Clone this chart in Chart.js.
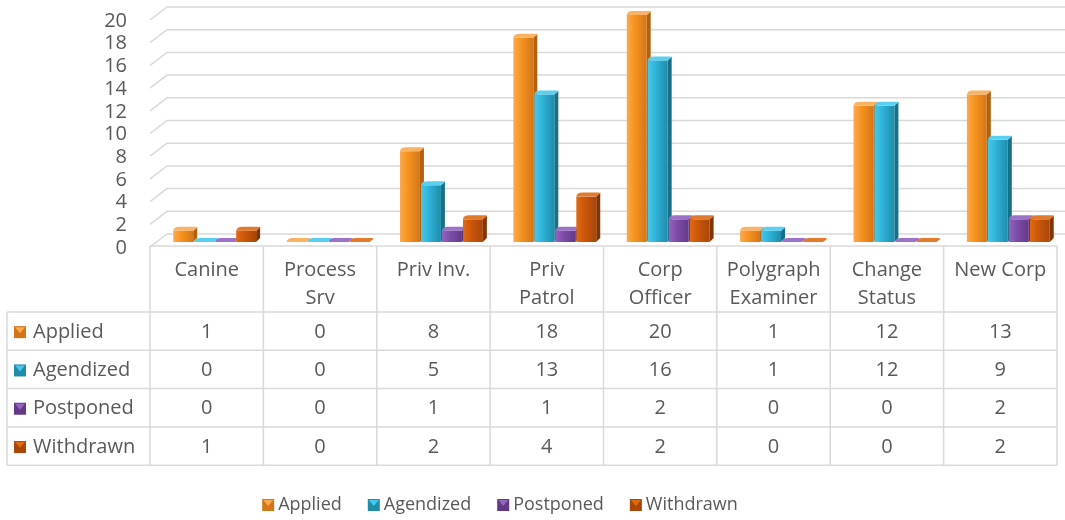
<!DOCTYPE html>
<html lang="en">
<head>
  <meta charset="UTF-8">
  <title>Applications by License Type</title>
  <style>
    body {
      margin: 0;
      padding: 0;
      background-color: #fff;
    }

    .chart-container {
      position: relative;
      width: 1065px;
      height: 520px;
    }
  </style>
  <script src="https://cdn.jsdelivr.net/npm/chart.js"></script>
</head>
<body>

  <div class="chart-container">
    <canvas id="licenseChart"></canvas>
  </div>

  <script>
    const categories = [['Canine'], ['Process', 'Srv'], ['Priv Inv.'], ['Priv', 'Patrol'], ['Corp', 'Officer'],
                        ['Polygraph', 'Examiner'], ['Change', 'Status'], ['New Corp']];
    const seriesNames = ['Applied', 'Agendized', 'Postponed', 'Withdrawn'];
    const applied   = [1, 0, 8, 18, 20, 1, 12, 13];
    const agendized = [0, 0, 5, 13, 16, 1, 12, 9];
    const postponed = [0, 0, 1, 1, 2, 0, 0, 2];
    const withdrawn = [1, 0, 2, 4, 2, 0, 0, 2];
    const yTicks = [0, 2, 4, 6, 8, 10, 12, 14, 16, 18, 20];

    // light / base / dark / side shades for each series
    const shades = [
      { light: '#FCA94E', base: '#F7931E', dark: '#D2761A', side: '#B3610F', top: '#FAB264' },
      { light: '#45C8EA', base: '#2FB3D8', dark: '#1F8CAA', side: '#176F88', top: '#5BD0EE' },
      { light: '#9465C0', base: '#7D4DA8', dark: '#633987', side: '#4D2A6C', top: '#9C72C6' },
      { light: '#E06A14', base: '#CC570B', dark: '#A94608', side: '#833405', top: '#E27A2E' }
    ];

    const FONT = "'Open Sans', Lato, sans-serif";
    const FONT_SIZE = 20;
    const LEGEND_SIZE = 18;
    const TEXT = '#595959';
    const GRID = '#D9D9D9';
    const SHIFT = 8;      // depth shift of the bars against the table
    const DEPTH = 4;      // size of side / top faces

    function drawBar(ctx, x, top, base, w, c) {
      const x0 = x - w / 2;
      const x1 = x + w / 2;
      const h = Math.max(0, base - top);
      // side face
      ctx.fillStyle = c.side;
      ctx.beginPath();
      ctx.moveTo(x1, top);
      ctx.lineTo(x1 + DEPTH, top - DEPTH);
      ctx.lineTo(x1 + DEPTH, base - DEPTH);
      ctx.lineTo(x1, base);
      ctx.closePath();
      ctx.fill();
      // front face
      if (h > 0) {
        const g = ctx.createLinearGradient(x0, 0, x1, 0);
        g.addColorStop(0, c.light);
        g.addColorStop(0.4, c.base);
        g.addColorStop(1, c.dark);
        ctx.fillStyle = g;
        ctx.fillRect(x0, top, w, h);
      }
      // top face, slightly rounded
      ctx.fillStyle = c.top;
      ctx.beginPath();
      ctx.moveTo(x0, top);
      ctx.quadraticCurveTo(x0 + 0.5, top - DEPTH, x0 + DEPTH + 2, top - DEPTH);
      ctx.lineTo(x1 + DEPTH - 2, top - DEPTH);
      ctx.quadraticCurveTo(x1 + DEPTH, top - DEPTH, x1 + DEPTH, top - DEPTH + 1);
      ctx.lineTo(x1, top);
      ctx.closePath();
      ctx.fill();
    }

    function drawMarker(ctx, x, y, size, c) {
      ctx.fillStyle = c.dark;
      ctx.fillRect(x, y, size, size);
      ctx.fillStyle = c.light;
      ctx.beginPath();
      ctx.moveTo(x + 1, y + 1);
      ctx.lineTo(x + size - 1, y + 1);
      ctx.lineTo(x + size / 2, y + size / 2 + 1);
      ctx.closePath();
      ctx.fill();
    }

    const chart3d = {
      id: 'chart3d',
      beforeDatasetsDraw(chart) {
        // back wall gridlines with the slanted floor edge on the left, plus tick labels
        const ctx = chart.ctx;
        const y = chart.scales.y;
        const area = chart.chartArea;
        ctx.save();
        ctx.strokeStyle = GRID;
        ctx.lineWidth = 1.5;
        ctx.fillStyle = TEXT;
        ctx.font = FONT_SIZE + 'px ' + FONT;
        ctx.textAlign = 'right';
        ctx.textBaseline = 'middle';
        yTicks.forEach(v => {
          const py = y.getPixelForValue(v);
          ctx.beginPath();
          ctx.moveTo(area.left - SHIFT, py + 5);
          ctx.lineTo(area.left + SHIFT + 1, py - 8);
          ctx.lineTo(area.right, py - 8);
          ctx.stroke();
          ctx.fillText(String(v), 127, py + 6);
        });
        ctx.restore();
      },
      afterDatasetsDraw(chart) {
        const ctx = chart.ctx;
        ctx.save();
        const n = categories.length;
        for (let i = 0; i < n; i++) {
          chart.data.datasets.forEach((ds, d) => {
            const el = chart.getDatasetMeta(d).data[i];
            drawBar(ctx, el.x, el.y, el.base, el.width, shades[d]);
          });
        }
        ctx.restore();
      },
      afterDraw(chart) {
        const ctx = chart.ctx;
        const x = chart.scales.x;
        const area = chart.chartArea;
        const colW = (area.right - area.left) / categories.length;
        const tLeft = area.left - SHIFT;
        const tRight = tLeft + colW * categories.length;
        const labelLeft = 7;
        const headTop = area.bottom + 4;
        const headBottom = headTop + 66;
        const rowH = 38.3;
        const tBottom = headBottom + rowH * seriesNames.length;

        ctx.save();
        ctx.strokeStyle = GRID;
        ctx.lineWidth = 1.5;
        // horizontal lines
        ctx.beginPath();
        ctx.moveTo(tLeft, headTop);
        ctx.lineTo(tRight, headTop);
        for (let r = 0; r <= seriesNames.length; r++) {
          const ry = headBottom + r * rowH;
          ctx.moveTo(labelLeft, ry);
          ctx.lineTo(tRight, ry);
        }
        // vertical lines
        ctx.moveTo(labelLeft, headBottom);
        ctx.lineTo(labelLeft, tBottom);
        for (let c = 0; c <= categories.length; c++) {
          const cx = tLeft + c * colW;
          ctx.moveTo(cx, headTop);
          ctx.lineTo(cx, tBottom);
        }
        ctx.stroke();

        // header texts
        ctx.fillStyle = TEXT;
        ctx.font = FONT_SIZE + 'px ' + FONT;
        ctx.textAlign = 'center';
        ctx.textBaseline = 'middle';
        categories.forEach((lines, i) => {
          const cx = x.getPixelForValue(i) - SHIFT;
          lines.forEach((t, l) => ctx.fillText(t, cx, headTop + 24 + l * 28));
        });

        // rows
        const rows = [applied, agendized, postponed, withdrawn];
        rows.forEach((vals, r) => {
          const cy = headBottom + r * rowH + rowH / 2 + 1;
          drawMarker(ctx, 14, cy - 6, 12, shades[r]);
          ctx.fillStyle = TEXT;
          ctx.textAlign = 'left';
          ctx.fillText(seriesNames[r], 33, cy);
          ctx.textAlign = 'center';
          vals.forEach((v, i) => {
            ctx.fillText(String(v), x.getPixelForValue(i) - SHIFT, cy);
          });
        });

        // legend at the bottom
        const legendY = 505;
        ctx.font = LEGEND_SIZE + 'px ' + FONT;
        ctx.textAlign = 'left';
        const widths = seriesNames.map(s => ctx.measureText(s).width);
        const itemGap = 26;
        const total = widths.reduce((a, w) => a + 16 + w, 0) + itemGap * (seriesNames.length - 1);
        let lx = 500 - total / 2;
        seriesNames.forEach((s, k) => {
          drawMarker(ctx, lx, legendY - 6, 12, shades[k]);
          ctx.fillStyle = TEXT;
          ctx.fillText(s, lx + 16, legendY);
          lx += 16 + widths[k] + itemGap;
        });
        ctx.restore();
      }
    };

    const ctx = document.getElementById('licenseChart').getContext('2d');
    new Chart(ctx, {
      type: 'bar',
      data: {
        labels: categories,
        datasets: [
          { label: seriesNames[0], data: applied },
          { label: seriesNames[1], data: agendized },
          { label: seriesNames[2], data: postponed },
          { label: seriesNames[3], data: withdrawn }
        ].map(ds => Object.assign(ds, {
          backgroundColor: 'rgba(0,0,0,0)',
          borderWidth: 0,
          categoryPercentage: 0.74,
          barPercentage: 0.95
        }))
      },
      options: {
        responsive: true,
        maintainAspectRatio: false,
        animation: false,
        layout: {
          padding: { top: 15, right: 0, bottom: 278, left: 0 }
        },
        plugins: {
          legend: { display: false },
          tooltip: { enabled: false }
        },
        scales: {
          x: { display: false },
          y: {
            min: 0,
            max: 20,
            afterFit(scale) { scale.width = 158; },
            grid: { display: false },
            border: { display: false },
            ticks: { display: false }
          }
        }
      },
      plugins: [chart3d]
    });
  </script>
</body>
</html>
